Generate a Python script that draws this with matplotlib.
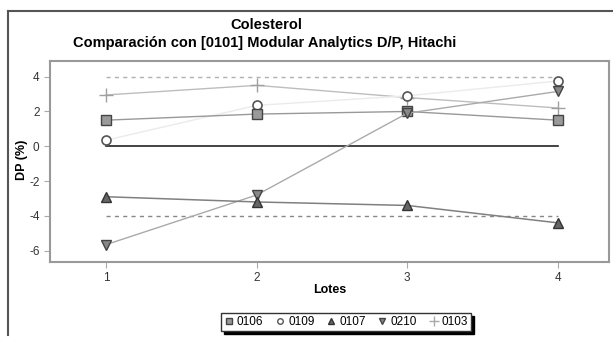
import numpy as np
import matplotlib
matplotlib.use("Agg")
from matplotlib import pyplot as plt
from matplotlib.lines import Line2D

plt.rcParams['font.family'] = ['Liberation Sans', 'DejaVu Sans']
plt.rcParams['axes.unicode_minus'] = False

# Data
lotes = [1, 2, 3, 4]
s0106 = [1.5, 1.85, 2.0, 1.5]
s0109 = [0.35, 2.35, 2.9, 3.75]
s0107 = [-2.9, -3.2, -3.4, -4.4]
s0210 = [-5.65, -2.8, 1.9, 3.15]
s0103 = [2.95, 3.5, 2.8, 2.2]
limite = 4

fig = plt.figure(figsize=(6.13, 3.37), dpi=100)
ax = fig.add_axes([50/613, 1-262/337, (609-50)/613, (262-61)/337])

# reference lines
ax.plot([1, 4], [0, 0], color='#222222', lw=1.2, zorder=1)
ax.plot([1, 4], [limite, limite], color='#b0b0b0', lw=1, ls=(0, (3, 3)), zorder=1)
ax.plot([1, 4], [-limite, -limite], color='#888888', lw=1, ls=(0, (3, 3)), zorder=1)

ax.plot(lotes, s0109, color='#ebebeb', lw=1, marker='o', ms=6.5, mfc='white', mec='#555555', mew=1.2, label='0109', zorder=3)
ax.plot(lotes, s0103, color='#bdbdbd', lw=1, marker='+', ms=10, mec='#a0a0a0', mew=1, label='0103', zorder=2)
ax.plot(lotes, s0106, color='#999999', lw=1, marker='s', ms=7.5, mfc='#9a9a9a', mec='#444444', mew=1, label='0106', zorder=4)
ax.plot(lotes, s0210, color='#aaaaaa', lw=1, marker='v', ms=7.5, mfc='#888888', mec='#444444', mew=1, label='0210', zorder=4)
ax.plot(lotes, s0107, color='#808080', lw=1.1, marker='^', ms=7.5, mfc='#666666', mec='#333333', mew=1, label='0107', zorder=4)

ax.set_xlim(0.627, 4.34)
ax.set_ylim(-6.65, 4.9)
ax.set_xticks(lotes)
ax.set_yticks([-6, -4, -2, 0, 2, 4])
for sp in ax.spines.values():
    sp.set_color('#999999')
    sp.set_linewidth(1.5)
ax.tick_params(direction='out', length=4, color='#aaaaaa', labelsize=8.5, labelcolor='#333333')

fig.text(22/613, 1-160/337, 'DP (%)', rotation=90, ha='center', va='center', fontsize=9, fontweight='bold')
fig.text(330/613, 1-290/337, 'Lotes', ha='center', va='center', fontsize=9, fontweight='bold')
fig.text(266/613, 1-25/337, 'Colesterol', ha='center', va='center', fontsize=10.5, fontweight='bold')
fig.text(265/613, 1-43/337, 'Comparación con [0101] Modular Analytics D/P, Hitachi',
         ha='center', va='center', fontsize=10.5, fontweight='bold')

# outer frame
fig.add_artist(Line2D([8/613, 1], [1-11/337]*2, color='#555555', lw=1.5))
fig.add_artist(Line2D([8/613]*2, [1-11/337, 2/337], color='#555555', lw=1.5))

handles = [
    Line2D([], [], ls='none', marker='s', ms=4, mfc='#999999', mec='#444444'),
    Line2D([], [], ls='none', marker='o', ms=4, mfc='white', mec='#555555'),
    Line2D([], [], ls='none', marker='^', ms=4, mfc='#666666', mec='#333333'),
    Line2D([], [], ls='none', marker='v', ms=4, mfc='#888888', mec='#444444'),
    Line2D([], [], ls='none', marker='+', ms=7, mec='#aaaaaa'),
]
leg = fig.legend(handles, ['0106', '0109', '0107', '0210', '0103'], loc='center',
                 bbox_to_anchor=(346/613, 1-322/337), ncol=5, fontsize=8.5,
                 frameon=True, fancybox=False, shadow={'color': 'black', 'alpha': 1},
                 edgecolor='#333333', handlelength=0.8, handletextpad=0.3,
                 columnspacing=1.0, borderpad=0.25, borderaxespad=0)
leg.get_frame().set_linewidth(1)

fig.savefig('out.png', dpi=100)
